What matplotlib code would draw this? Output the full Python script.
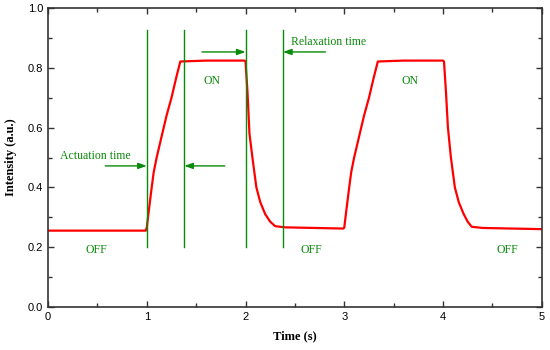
import matplotlib
matplotlib.use("Agg")
import matplotlib.pyplot as plt
from matplotlib.ticker import MultipleLocator, FormatStrFormatter

# Red intensity trace
time_s = [0.0, 0.5, 0.99, 1.0, 1.02, 1.05, 1.07, 1.10, 1.15, 1.20, 1.25, 1.30, 1.34,
          1.6, 1.99, 2.0, 2.02, 2.04, 2.07, 2.09, 2.11, 2.15, 2.20, 2.25, 2.30, 2.40,
          2.7, 2.99, 3.0, 3.02, 3.05, 3.07, 3.10, 3.15, 3.20, 3.25, 3.30, 3.34,
          3.6, 4.0, 4.01, 4.03, 4.05, 4.08, 4.10, 4.12, 4.16, 4.21, 4.25, 4.29, 4.40,
          4.7, 5.0]
intensity = [0.255, 0.255, 0.255, 0.265, 0.32, 0.40, 0.45, 0.50, 0.57, 0.64, 0.70, 0.77, 0.822,
             0.825, 0.825, 0.822, 0.72, 0.58, 0.50, 0.45, 0.40, 0.35, 0.31, 0.285, 0.27, 0.266,
             0.264, 0.262, 0.265, 0.32, 0.40, 0.45, 0.50, 0.57, 0.64, 0.70, 0.77, 0.822,
             0.825, 0.825, 0.822, 0.72, 0.60, 0.50, 0.45, 0.40, 0.35, 0.31, 0.285, 0.268, 0.264,
             0.262, 0.260]

# Green markers
vline_x = [1.0, 1.38, 2.0, 2.38]
vline_ymin, vline_ymax = 0.2, 0.927

labels_text = ["Actuation time", "Relaxation time", "ON", "ON", "OFF", "OFF", "OFF"]
labels_x = [0.12, 2.46, 1.66, 3.67, 0.49, 2.67, 4.65]
labels_y = [0.506, 0.886, 0.756, 0.756, 0.19, 0.19, 0.19]
labels_ha = ["left", "left", "center", "center", "center", "center", "center"]

# arrows: (start x, end x, y)
arrow_start = [0.58, 1.79, 1.56, 2.81]
arrow_end = [1.0, 1.38, 2.0, 2.38]
arrow_y = [0.472, 0.472, 0.854, 0.854]

green = "#0a8a0a"
red = "#ff0000"

fig = plt.figure(figsize=(5.5, 3.5), dpi=100)
ax = fig.add_axes([0.0873, 0.1237, 0.8977, 0.8523])

ax.plot(time_s, intensity, color=red, lw=1.6, solid_joinstyle="round")
for x in vline_x:
    ax.plot([x, x], [vline_ymin, vline_ymax], color=green, lw=1.0)

for t, x, y, ha in zip(labels_text, labels_x, labels_y, labels_ha):
    ax.text(x, y, t, color=green, fontsize=8.5, family="Liberation Serif",
            ha=ha, va="center")

for xs, xe, y in zip(arrow_start, arrow_end, arrow_y):
    ax.annotate("", xy=(xe, y), xytext=(xs, y),
                arrowprops=dict(arrowstyle="-|>,head_length=0.5,head_width=0.18",
                                color=green, lw=1.0, shrinkA=0, shrinkB=0))

ax.set_xlim(0, 5)
ax.set_ylim(0, 1.0)
ax.xaxis.set_major_locator(MultipleLocator(1))
ax.xaxis.set_minor_locator(MultipleLocator(0.5))
ax.yaxis.set_major_locator(MultipleLocator(0.2))
ax.yaxis.set_minor_locator(MultipleLocator(0.1))
ax.yaxis.set_major_formatter(FormatStrFormatter("%.1f"))
ax.tick_params(which="both", direction="in", top=True, right=True,
               labelsize=8, width=1.0, colors="#333333", labelcolor="black")
ax.tick_params(which="major", length=4.5)
ax.tick_params(which="minor", length=3)
for lab in ax.get_xticklabels() + ax.get_yticklabels():
    lab.set_family("Liberation Sans")
for s in ax.spines.values():
    s.set_linewidth(1.2)
    s.set_color("#333333")

ax.set_xlabel("Time (s)", fontsize=9, fontweight="bold", family="Liberation Serif", labelpad=6)
ax.set_ylabel("Intensity (a.u.)", fontsize=9, fontweight="bold", family="Liberation Serif", labelpad=8)

fig.savefig("out.png", dpi=100)
